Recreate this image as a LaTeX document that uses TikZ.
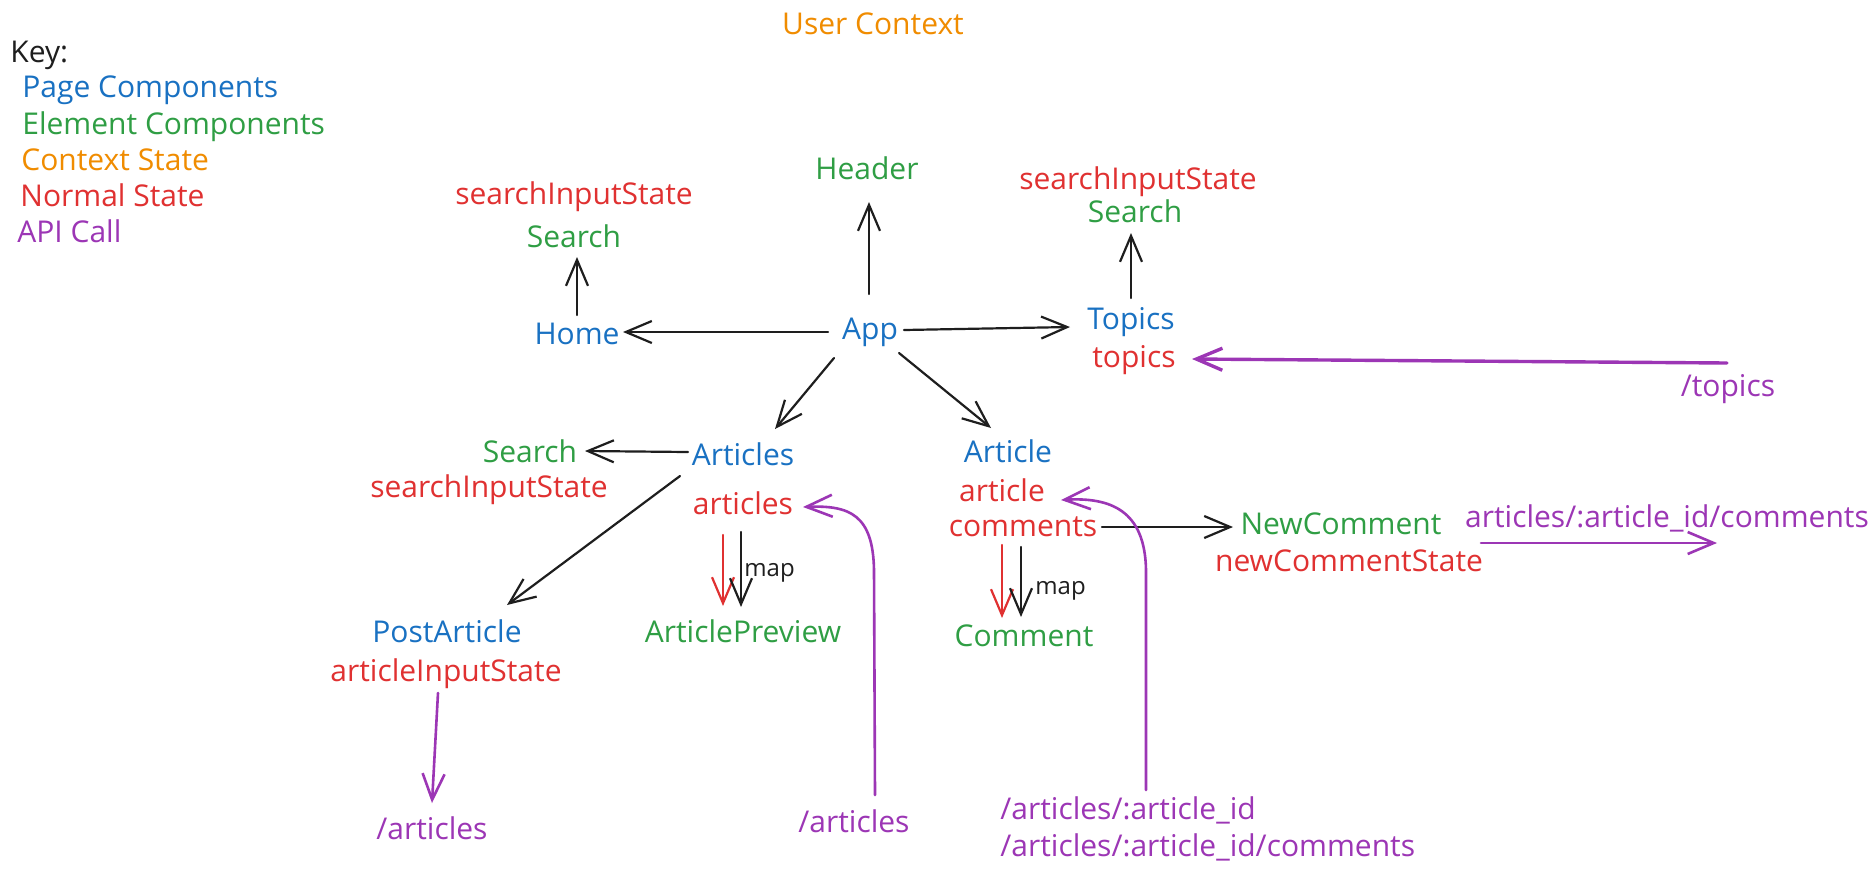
\documentclass[tikz,border=0pt]{standalone}
\usepackage{fontspec}
\setmainfont{Open Sans}
\usetikzlibrary{arrows.meta}
\definecolor{cblue}{HTML}{1971C2}
\definecolor{cgreen}{HTML}{2F9E44}
\definecolor{corange}{HTML}{F08C00}
\definecolor{cred}{HTML}{E03131}
\definecolor{cpurple}{HTML}{9C36B5}
\definecolor{cblack}{HTML}{1E1E1E}
\begin{document}
\begin{tikzpicture}[x=0.5pt,y=-0.5pt,
  lbl/.style={inner sep=0pt, font=\fontsize{15}{18}\selectfont, text height=1.0em, text depth=0.02em},
  page/.style={lbl,text=cblue},
  elem/.style={lbl,text=cgreen},
  ctx/.style={lbl,text=corange},
  st/.style={lbl,text=cred},
  api/.style={lbl,text=cpurple},
  plainlbl/.style={lbl,text=cblack},
  maplbl/.style={inner sep=0pt, font=\fontsize{12}{14}\selectfont, text height=1.0em, text depth=0.02em, text=cblack, anchor=west},
  arr/.style={draw=cblack, line width=1.1pt, line cap=round, -{Straight Barb[length=13pt,width=11pt]}},
  redarr/.style={arr, draw=cred},
  apiarr/.style={arr, draw=cpurple, line width=1.3pt},
  apithick/.style={arr, draw=cpurple, line width=1.7pt}
]
\fill[white] (0,0) rectangle (1875,874);
\useasboundingbox (0,0) rectangle (1875,874);

% title and key
\node[ctx] (usercontext) at (873,25) {User Context};
\node[plainlbl, anchor=west] (key) at (10,53) {Key:};
\node[page, anchor=west] (keypage) at (22,88) {Page Components};
\node[elem, anchor=west] (keyelem) at (22,125) {Element Components};
\node[ctx, anchor=west] (keyctx) at (21,161) {Context State};
\node[st, anchor=west] (keynormal) at (20,197) {Normal State};
\node[api, anchor=west] (keyapi) at (17,233) {API Call};

% top part
\node[st] (sis1) at (574,195) {searchInputState};
\node[elem] (search1) at (574,238) {Search};
\node[elem] (header) at (867,170) {Header};
\node[page] (home) at (577,335) {Home};
\node[page] (app) at (870,330) {App};
\node[st] (sis2) at (1138,180) {searchInputState};
\node[elem] (search2) at (1135,213) {Search};
\node[page] (topics) at (1131,320) {Topics};
\node[st] (topicsst) at (1134,358) {topics};
\node[api] (apitopics) at (1728,387) {/topics};

% articles branch
\node[elem] (search3) at (530,453) {Search};
\node[st] (sis3) at (489,488) {searchInputState};
\node[page] (articles) at (743,456) {Articles};
\node[st] (articlesst) at (743,505) {articles};
\node[maplbl] (map1) at (744,567) {map};
\node[elem] (articlepreview) at (743,633) {ArticlePreview};
\node[page] (postarticle) at (447,633) {PostArticle};
\node[st] (articleinputstate) at (446,672) {articleInputState};
\node[api] (apiarticles1) at (432,830) {/articles};
\node[api] (apiarticles2) at (854,823) {/articles};

% article branch
\node[page] (article) at (1008,453) {Article};
\node[st] (articlest) at (1002,492) {article};
\node[st] (comments) at (1023,527) {comments};
\node[maplbl] (map2) at (1035,585) {map};
\node[elem] (comment) at (1024,637) {Comment};
\node[elem] (newcomment) at (1341,525) {NewComment};
\node[st] (newcommentstate) at (1349,562) {newCommentState};
\node[api] (apicomments) at (1667,518) {articles/:article\_id/comments};
\coordinate (apicommentsend) at ([shift={(50,25)}]apicomments.center);
\node[api, anchor=west] (apiarticle) at (1000,810) {/articles/:article\_id};
\node[api, anchor=west] (apiarticlecomments) at (1000,847) {/articles/:article\_id/comments};

% connectors
\draw[arr] ([shift={(0,-20)}]home.center) -- ([shift={(3,19)}]search1.center);
\draw[arr] ([shift={(-1,-36)}]app.center) -- ([shift={(2,32)}]header.center);
\draw[arr] ([shift={(-42,2)}]app.center) -- ([shift={(46,-3)}]home.center);
\draw[arr] ([shift={(34,0)}]app.center) -- ([shift={(-61,7)}]topics.center);
\draw[arr] ([shift={(-36,28)}]app.center) -- ([shift={(32,-27)}]articles.center);
\draw[arr] ([shift={(29,23)}]app.center) -- ([shift={(-17,-25)}]article.center);
\draw[arr] ([shift={(0,-22)}]topics.center) -- ([shift={(-4,20)}]search2.center);
\draw[apithick] ([shift={(-1,-24)}]apitopics.center) -- ([shift={(58,1)}]topicsst.center);

\draw[arr] ([shift={(-55,-4)}]articles.center) -- ([shift={(55,-2)}]search3.center);
\draw[arr] ([shift={(-63,20)}]articles.center) -- ([shift={(60,-28)}]postarticle.center);
\draw[redarr] ([shift={(-20,30)}]articlesst.center) -- ([shift={(-20,-27)}]articlepreview.center);
\draw[arr] ([shift={(-2,27)}]articlesst.center) -- ([shift={(-2,-26)}]articlepreview.center);
\draw[apiarr] ([shift={(-8,21)}]articleinputstate.center) -- ([shift={(0,-27)}]apiarticles1.center);
\draw[apiarr] ([shift={(21,-28)}]apiarticles2.center) -- ++(-1,-225)
   .. controls +(-1,-55) and +(47,-2) .. ([shift={(60,2)}]articlesst.center);

\draw[redarr] ([shift={(-21,18)}]comments.center) -- ([shift={(-22,-19)}]comment.center);
\draw[arr] ([shift={(-2,20)}]comments.center) -- ([shift={(-3,-20)}]comment.center);
\draw[arr] ([shift={(79,0)}]comments.center) -- ([shift={(-108,2)}]newcomment.center);
\draw[apiarr] ([shift={(132,-19)}]newcommentstate.center) -- (apicommentsend);
\draw[apiarr] ([shift={(146,-20)}]apiarticle.west) -- ++(0,-220)
   .. controls +(-1,-60) and +(49,-3) .. ([shift={(59,8)}]articlest.center);
\end{tikzpicture}
\end{document}
